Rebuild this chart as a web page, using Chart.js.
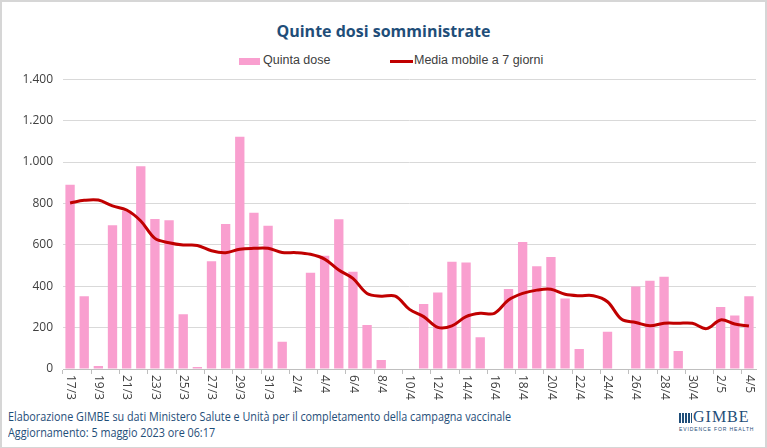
<!DOCTYPE html>
<html>
<head>
<meta charset="utf-8">
<script src="https://cdn.jsdelivr.net/npm/chart.js@4"></script>
<style>
  html, body { margin: 0; padding: 0; background: #fff; }
  body { width: 767px; height: 448px; position: relative; overflow: hidden; font-family: "Liberation Sans", Arial, sans-serif; }
  #frame { position: absolute; left: 0; top: 0; width: 763px; height: 445px; border: 2px solid #d6d6d6; }
  #title { position: absolute; left: 0; width: 767px; top: 20px; text-align: center; font: bold 16px "Open Sans", sans-serif; color: #1f4e79; }
  .leg { position: absolute; top: 53px; font: 12.5px "Liberation Sans", sans-serif; color: #404040; }
  .sw { position: absolute; }
  #wrap { position: absolute; left: 0; top: 62px; width: 767px; height: 343px; }
  .foot { position: absolute; left: 8px; font: 12px "Open Sans", sans-serif; color: #1f4e79; white-space: nowrap;
          transform: scaleX(0.9); transform-origin: left top; }
  #logo { position: absolute; left: 679px; top: 410px; color: #1f4e79; }
</style>
</head>
<body>
<div id="frame"></div>
<div id="title">Quinte dosi somministrate</div>
<div class="sw" style="left:239px;top:58px;width:21px;height:7px;background:#f99fcf"></div>
<div class="leg" style="left:263px">Quinta dose</div>
<div class="sw" style="left:390px;top:60px;width:23px;height:3px;background:#c00000"></div>
<div class="leg" style="left:414px">Media mobile a 7 giorni</div>
<div id="wrap"><canvas id="c"></canvas></div>
<div class="foot" style="top:408px">Elaborazione GIMBE su dati Ministero Salute e Unità per il completamento della campagna vaccinale</div>
<div class="foot" style="top:424px">Aggiornamento: 5 maggio 2023 ore 06:17</div>
<div id="logo">
  <div style="position:absolute;left:0;top:3px;width:13px;height:10px;background:repeating-linear-gradient(90deg,#1f4e79 0 2px,#fff 2px 3px)"></div>
  <div style="position:absolute;left:14px;top:-2px;font:16px 'Liberation Serif',serif;letter-spacing:1px">GIMBE</div>
  <div style="position:absolute;left:0;top:16px;font:5px 'Liberation Sans',sans-serif;letter-spacing:0.9px;white-space:nowrap">EVIDENCE FOR HEALTH</div>
</div>
<script>
const dates = ['17/3','18/3','19/3','20/3','21/3','22/3','23/3','24/3','25/3','26/3','27/3','28/3','29/3','30/3','31/3',
  '1/4','2/4','3/4','4/4','5/4','6/4','7/4','8/4','9/4','10/4','11/4','12/4','13/4','14/4','15/4','16/4','17/4','18/4','19/4','20/4',
  '21/4','22/4','23/4','24/4','25/4','26/4','27/4','28/4','29/4','30/4','1/5','2/5','3/5','4/5'];
const quintaDose = [890, 352, 15, 695, 765, 980, 725, 718, 265, 10, 520, 700, 1122, 755, 692,
  132, 0, 465, 547, 724, 470, 212, 43, 0, 0, 314, 369, 518, 515, 153, 3, 386, 613, 496, 541,
  341, 97, 0, 180, 0, 399, 426, 446, 87, 0, 0, 299, 259, 352];
const mediaMobile = [802, 815, 816, 788, 768, 715, 631, 610, 599, 597, 571, 562, 579, 583, 583,
  563, 562, 554, 531, 478, 438, 365, 352, 352, 288, 253, 201, 208, 253, 269, 269, 333, 365, 381, 385,
  361, 354, 354, 325, 240, 225, 209, 221, 221, 221, 195, 237, 217, 208];
const yTicks = [0, 200, 400, 600, 800, 1000, 1200, 1400];

const fmt = v => String(v).replace(/\B(?=(\d{3})+(?!\d))/g, '.');

const rotLabels = {
  id: 'rotLabels',
  afterDraw(chart) {
    const ctx = chart.ctx, xs = chart.scales.x;
    ctx.save();
    ctx.font = '12px "Open Sans", sans-serif';
    ctx.fillStyle = '#404040';
    ctx.textAlign = 'left';
    ctx.textBaseline = 'middle';
    dates.forEach((d, i) => {
      if (i % 2) return;
      ctx.save();
      ctx.translate(xs.getPixelForValue(i), chart.chartArea.bottom + 6);
      ctx.rotate(Math.PI / 2);
      ctx.fillText(d, 0, 0);
      ctx.restore();
    });
    ctx.restore();
  }
};

new Chart(document.getElementById('c'), {
  data: {
    labels: dates,
    datasets: [
      { type: 'line', label: 'Media mobile a 7 giorni', data: mediaMobile, borderColor: '#c00000', borderWidth: 3,
        pointRadius: 0, tension: 0.35, order: 0 },
      { type: 'bar', label: 'Quinta dose', data: quintaDose, backgroundColor: '#f99fcf',
        barPercentage: 0.66, categoryPercentage: 1, order: 1 }
    ]
  },
  options: {
    responsive: true,
    maintainAspectRatio: false,
    animation: false,
    layout: { padding: { top: 9, right: 11, left: 0, bottom: 0 } },
    plugins: { legend: { display: false }, tooltip: { enabled: false } },
    scales: {
      x: {
        grid: { offset: true, drawOnChartArea: false, tickLength: 5,
          color: c => (c.index % 2 === 0 ? '#bfbfbf' : 'rgba(0,0,0,0)') },
        border: { color: '#bfbfbf' },
        ticks: { display: false, autoSkip: false },
        afterFit: s => { s.height = 36; }
      },
      y: {
        min: 0, max: 1400,
        afterBuildTicks: s => { s.ticks = yTicks.map(v => ({ value: v })); },
        grid: { color: '#d9d9d9', drawTicks: false },
        border: { display: false },
        ticks: { padding: 10, color: '#404040', font: { size: 12, family: '"Open Sans", sans-serif' }, callback: v => fmt(v) },
        afterFit: s => { s.width = 63; }
      }
    }
  },
  plugins: [rotLabels]
});
</script>
</body>
</html>
